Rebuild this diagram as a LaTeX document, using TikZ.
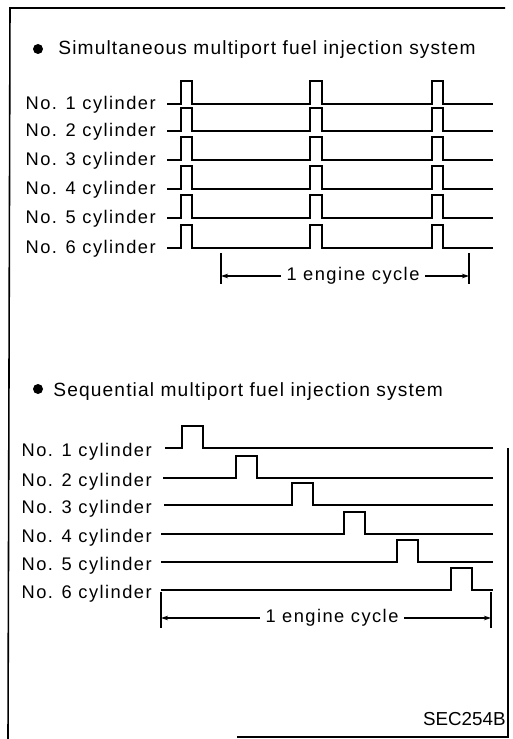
\documentclass[tikz,border=0pt]{standalone}
\usepackage{fontspec}
\setmainfont{Liberation Sans}
\usetikzlibrary{arrows.meta, positioning}

\begin{document}
\begin{tikzpicture}[
        x=0.02cm, y=-0.02cm,
        title/.style={
          anchor=base west, inner sep=0pt,
          font=\fontsize{10.9}{13}\selectfont\addfontfeature{LetterSpace=6}
        },
        cyl/.style={
          anchor=base east, inner sep=0pt,
          font=\fontsize{10.4}{12}\selectfont\addfontfeature{LetterSpace=8}
        },
        cycle/.style={
          fill=white, inner sep=3pt,
          font=\fontsize{10.4}{12}\selectfont\addfontfeature{LetterSpace=8}
        },
        pulse/.style={line width=1.1pt, line join=miter},
        frame/.style={line width=0.9pt},
        tick/.style={line width=0.7pt},
        arr/.style={-{Stealth[length=4pt, width=2.6pt]}, line width=0.6pt}
      ]
      \useasboundingbox (0,0) rectangle (512,739);

      % frame of the page
      \draw[frame] (505,8) -- (10,8) -- (8,739);
      \draw[frame] (508,448) -- (508,737) -- (237,737);

      % simultaneous injection
      \fill (38,49) circle (5);
      \node[title] (simtitle) at (58,55) {Simultaneous multiport fuel injection system};

      \foreach \n/\y in {1/104, 2/131, 3/160, 4/189, 5/218, 6/248} {
        \node[cyl] (sim\n) at (156,\y+6) {No. \n\ cylinder};
        \draw[pulse] (167,\y) -- (181,\y) -- (181,\y-23) -- (192,\y-23) -- (192,\y)
          -- (310,\y) -- (310,\y-23) -- (322,\y-23) -- (322,\y)
          -- (432,\y) -- (432,\y-23) -- (443,\y-23) -- (443,\y) -- (493,\y);
      }

      \coordinate (simL) at (221,253);
      \coordinate (simR) at (469,253);
      \draw[tick] (simL) -- ++(0,31);
      \draw[tick] (simR) -- ++(0,31);
      \node[cycle] (simcycle) at (353,276) {1 engine cycle};
      \draw[arr] (simcycle.west) -- (simL |- simcycle.west);
      \draw[arr] (simcycle.east) -- (simR |- simcycle.east);

      % sequential injection
      \fill (38,389) circle (5);
      \node[title] (seqtitle) at (53,396) {Sequential multiport fuel injection system};

      \foreach \n/\y/\p/\s in {1/448/182/165, 2/478/236/163, 3/505/292/164,
                               4/534/344/161, 5/562/397/161, 6/590/451/161} {
        \node[cyl] (seq\n) at (152,\y+8) {No. \n\ cylinder};
        \draw[pulse] (\s,\y) -- (\p,\y) -- (\p,\y-22) -- (\p+21,\y-22) -- (\p+21,\y)
          -- (493,\y);
      }

      \coordinate (seqL) at (161,592);
      \coordinate (seqR) at (491,592);
      \draw[tick] (seqL) -- ++(0,36);
      \draw[tick] (seqR) -- ++(0,36);
      \node[cycle] (seqcycle) at (332,618) {1 engine cycle};
      \draw[arr] (seqcycle.west) -- (seqL |- seqcycle.west);
      \draw[arr] (seqcycle.east) -- (seqR |- seqcycle.east);

      \node[anchor=base east, inner sep=0pt, font=\fontsize{10.7}{12}\selectfont]
        (code) at (506,725) {SEC254B};
    \end{tikzpicture}
\end{document}
